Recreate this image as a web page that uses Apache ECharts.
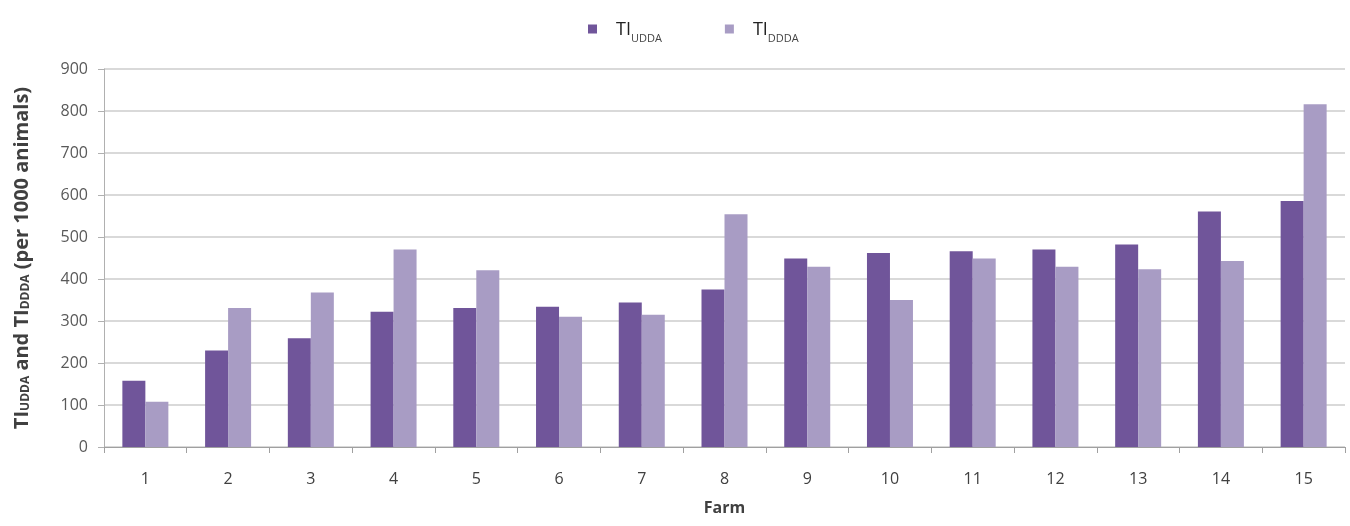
<!DOCTYPE html>
<html>
<head>
<meta charset="utf-8">
<script src="https://cdn.jsdelivr.net/npm/echarts@6/dist/echarts.min.js"></script>
<style>html,body{margin:0;padding:0;background:#fff}#c{width:1350px;height:526px}</style>
</head>
<body>
<div id="c"></div>
<script>
const farms = ['1','2','3','4','5','6','7','8','9','10','11','12','13','14','15'];
const tiUDDA = [158, 230, 259, 322, 331, 334, 344, 375, 449, 462, 466, 470, 482, 561, 586];
const tiDDDA = [108, 331, 368, 470, 421, 310, 315, 554, 429, 350, 449, 429, 423, 443, 816];
const yTicks = [0, 100, 200, 300, 400, 500, 600, 700, 800, 900];

const chart = echarts.init(document.getElementById('c'));
const font = 'Open Sans, Noto Sans, sans-serif';
chart.setOption({
  animation: false,
  backgroundColor: '#fff',
  color: ['#70559a', '#a89cc4'],
  legend: {
    top: 16,
    left: 583,
    itemWidth: 9,
    itemHeight: 9,
    itemGap: 63,
    icon: 'rect',
    data: ['UDDA', 'DDDA'],
    formatter: n => '{m|TI}{s|' + n + '}',
    textStyle: {
      fontFamily: font,
      rich: {
        m: { fontSize: 18, color: '#222', fontFamily: font, verticalAlign: 'bottom', lineHeight: 20, padding: [0, 0, 0, 14] },
        s: { fontSize: 11, color: '#444', fontFamily: font, verticalAlign: 'bottom', lineHeight: 14, padding: [0, 0, -5, 0] }
      }
    }
  },
  grid: { left: 104, right: 5, top: 69, bottom: 79, containLabel: false },
  xAxis: {
    type: 'category',
    data: farms,
    name: 'Farm',
    nameLocation: 'middle',
    nameGap: 53,
    nameTextStyle: { fontFamily: font, fontSize: 16, fontWeight: 'bold', color: '#404040' },
    axisLine: { lineStyle: { color: '#a0a0a0', width: 1 } },
    axisTick: { show: true, alignWithLabel: false, length: 6, lineStyle: { color: '#a0a0a0' } },
    axisLabel: { fontFamily: font, fontSize: 16, color: '#404040', margin: 24 }
  },
  yAxis: {
    type: 'value',
    min: 0,
    max: 900,
    interval: 100,
    name: 'TI{s|UDDA} and TI{s|DDDA} (per 1000 animals)',
    nameLocation: 'middle',
    nameRotate: 90,
    nameGap: 72,
    nameTextStyle: {
      fontFamily: font, fontSize: 20, fontWeight: 'bold', color: '#404040',
      rich: { s: { fontFamily: font, fontSize: 12, fontWeight: 'bold', color: '#404040', padding: [0, 0, -7, 0] } }
    },
    axisLine: { show: true, lineStyle: { color: '#b0b0b0' } },
    axisTick: { show: true, length: 6, lineStyle: { color: '#b0b0b0' } },
    axisLabel: { fontFamily: font, fontSize: 16, color: '#595959', margin: 16,
      formatter: v => yTicks.includes(v) ? String(v) : '' },
    splitLine: { lineStyle: { color: '#d9d9d9', width: 2 } }
  },
  series: [
    { name: 'UDDA', type: 'bar', data: tiUDDA, barWidth: 23, barGap: '0%' },
    { name: 'DDDA', type: 'bar', data: tiDDDA, barWidth: 23, barGap: '0%' }
  ]
});
</script>
</body>
</html>
